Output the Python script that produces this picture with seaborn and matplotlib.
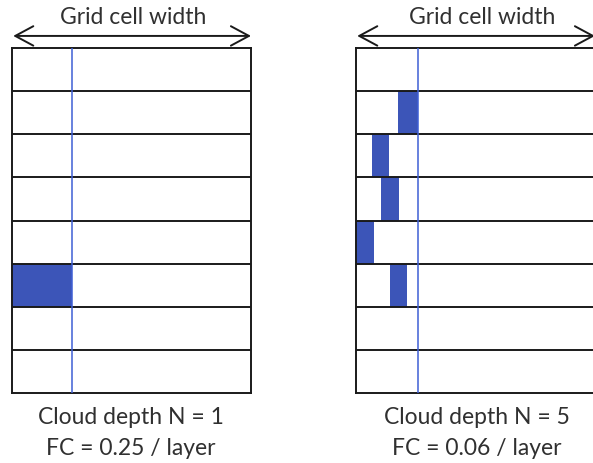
import matplotlib
matplotlib.use("Agg")
import matplotlib.pyplot as plt
import seaborn as sns

sns.set_theme(style="white")
plt.rcParams["font.family"] = ["Lato", "DejaVu Sans"]

# ---- data ----
n_layers = 8
panel_titles = ["Grid cell width", "Grid cell width"]
caption_depth = ["Cloud depth N = 1", "Cloud depth N = 5"]
caption_fc = ["FC = 0.25 / layer", "FC = 0.06 / layer"]
line_pos = [0.25, 0.26]           # blue reference line (fraction of cell width)

# cloudy segments: layer index (0 = top), left edge, width (fraction of cell width)
left_layers = [5]
left_start = [0.0]
left_width = [0.25]

right_layers = [1, 2, 3, 4, 5]
right_start = [0.176, 0.067, 0.105, 0.0, 0.142]
right_width = [0.083, 0.071, 0.075, 0.075, 0.071]

segments = [(left_layers, left_start, left_width), (right_layers, right_start, right_width)]

# ---- layout (pixels) ----
W, H = 593, 463
fig = plt.figure(figsize=(W / 100, H / 100), dpi=100)
fig.patch.set_facecolor("white")
box_left = [12, 356]
box_w = 239
box_top, box_bot = 48, 393
title_x = [0.506, 0.53]
cap_x = [0.498, 0.506]

fill_color = "#3c55b8"
line_color = "#3f5fd4"
text_color = "#303030"

for i in range(2):
    ax = fig.add_axes([box_left[i] / W, (H - box_bot) / H, box_w / W, (box_bot - box_top) / H])
    ax.set_xlim(0, 1)
    ax.set_ylim(n_layers, 0)
    ax.set_xticks([])
    ax.set_yticks([])
    ax.set_facecolor("white")
    for s in ax.spines.values():
        s.set_visible(True)
        s.set_color("#1a1a1a")
        s.set_linewidth(1.4)
    lay, st, wd = segments[i]
    ax.barh([l + 0.5 for l in lay], wd, left=st, height=1.0, color=fill_color,
            edgecolor="none", zorder=1)
    for k in range(1, n_layers):
        ax.axhline(k, color="#1a1a1a", lw=1.4, zorder=2)
    ax.axvline(line_pos[i], color=line_color, lw=1.1, zorder=3)

    ax.annotate("", xy=(0.005, 1.035), xytext=(1.0, 1.035), xycoords="axes fraction",
                textcoords="axes fraction",
                arrowprops=dict(arrowstyle="<->,head_length=1.3,head_width=0.7",
                                mutation_scale=10, lw=1.4, color="#1a1a1a",
                                shrinkA=0, shrinkB=0), annotation_clip=False)
    ax.text(title_x[i], 1.088, panel_titles[i], transform=ax.transAxes, ha="center",
            va="center", fontsize=16.5, color=text_color)
    ax.text(cap_x[i], -0.072, caption_depth[i], transform=ax.transAxes, ha="center",
            va="center", fontsize=16.5, color=text_color)
    ax.text(cap_x[i], -0.162, caption_fc[i], transform=ax.transAxes, ha="center",
            va="center", fontsize=16.5, color=text_color)

fig.savefig("out.png", dpi=100, facecolor="white")
